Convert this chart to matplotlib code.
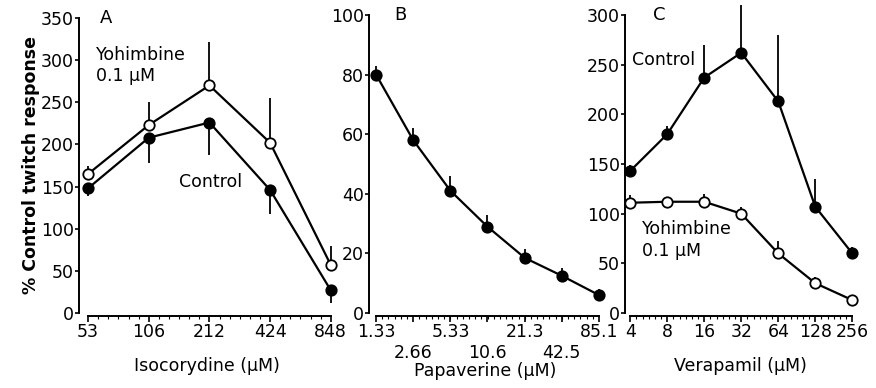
import numpy as np
import matplotlib
matplotlib.use('Agg')
import matplotlib.pyplot as plt
from matplotlib.ticker import FixedLocator, NullFormatter

# --- data
# A: isocorydine
iso_conc = [53, 106, 212, 424, 848]
iso_yoh = [165, 223, 270, 202, 57]
iso_yoh_err = [10, 27, 52, 53, 22]
iso_ctrl = [148, 208, 226, 146, 27]
iso_ctrl_err = [9, 30, 38, 28, 15]

# B: papaverine
pap_conc = [1.33, 2.66, 5.33, 10.6, 21.3, 42.5, 85.1]
pap_labels = ['1.33', '2.66', '5.33', '10.6', '21.3', '42.5', '85.1']
pap_ctrl = [80, 58, 41, 29, 18.5, 12.5, 6]
pap_ctrl_err = [3, 4, 5, 4, 3, 2.5, 2]

# C: verapamil
ver_conc = [4, 8, 16, 32, 64, 128, 256]
ver_labels = ['4', '8', '16', '32', '64', '128', '256']
ver_ctrl = [143, 180, 237, 262, 213, 107, 60]
ver_ctrl_err = [6, 8, 33, 48, 67, 28, 6]
ver_yoh = [111, 112, 112, 100, 60, 30, 13]
ver_yoh_err = [8, 5, 8, 7, 12, 6, 5]

plt.rcParams['font.family'] = 'DejaVu Sans'
plt.rcParams['font.size'] = 12.5

fig = plt.figure(figsize=(8.76, 3.88), dpi=100)
W, H = 876, 388

def make_ax(x0, x1, ytop, ybot=313):
	return fig.add_axes([x0/W, 1 - ybot/H, (x1 - x0)/W, (ybot - ytop)/H])

def style(ax, xs, labels):
	ax.set_xscale('log', base=2)
	for s in ['top', 'right']:
		ax.spines[s].set_visible(False)
	ax.spines['left'].set_linewidth(1.4)
	ax.spines['bottom'].set_linewidth(1.4)
	ax.spines['bottom'].set_bounds(xs[0], xs[-1])
	ax.spines['bottom'].set_position(('outward', 2))
	ax.xaxis.set_major_locator(FixedLocator(xs))
	ax.set_xticklabels(labels)
	ax.xaxis.set_minor_locator(FixedLocator(np.exp(np.linspace(np.log(xs[0]), np.log(xs[-1]), (len(xs)-1)*6 + 1))))
	ax.xaxis.set_minor_formatter(NullFormatter())
	ax.tick_params(axis='x', which='major', length=4, width=1.2, direction='out', pad=1.5)
	ax.tick_params(axis='x', which='minor', length=2, width=0.8, direction='out')
	ax.tick_params(axis='y', length=3, width=1.2, direction='out', pad=0.5)

def series(ax, x, y, err, filled, down):
	yerr = [err, [0]*len(err)] if down else [[0]*len(err), err]
	ax.errorbar(x, y, yerr=yerr, fmt='-', color='k', lw=1.6, elinewidth=1.3, capsize=0,
		marker='o', markersize=7.5, markerfacecolor='k' if filled else 'white',
		markeredgecolor='k', markeredgewidth=1.3, clip_on=False, zorder=3)

# --- panel A
axA = make_ax(79, 335, 18)
series(axA, iso_conc, iso_yoh, iso_yoh_err, False, False)
series(axA, iso_conc, iso_ctrl, iso_ctrl_err, True, True)
axA.set_ylim(0, 350)
axA.set_yticks(np.arange(0, 351, 50))
axA.set_xlim(53*2**-0.15, 848*2**0.07)
style(axA, iso_conc, [str(v) for v in iso_conc])
axA.set_xlabel('Isocorydine (\u03bcM)', labelpad=11)
axA.set_ylabel('% Control twitch response', fontweight='bold', labelpad=1)
axA.text(0.08, 1.0, 'A', transform=axA.transAxes, fontsize=13, va='center')
axA.text(58, 317, 'Yohimbine\n0.1 \u03bcM', va='top', ha='left', linespacing=1.25)
axA.text(150, 155, 'Control', va='center', ha='left')

# --- panel B
axB = make_ax(369, 602, 15)
series(axB, pap_conc, pap_ctrl, pap_ctrl_err, True, False)
axB.set_ylim(0, 100)
axB.set_yticks(np.arange(0, 101, 20))
axB.set_xlim(1.33*2**-0.19, 85.1*2**0.08)
style(axB, pap_conc, [l if i % 2 == 0 else '\n' + l for i, l in enumerate(pap_labels)])
axB.set_xlabel('Papaverine (\u03bcM)', labelpad=0)
axB.text(0.11, 1.0, 'B', transform=axB.transAxes, fontsize=13, va='center')

# --- panel C
axC = make_ax(625, 856, 15)
series(axC, ver_conc, ver_ctrl, ver_ctrl_err, True, False)
series(axC, ver_conc, ver_yoh, ver_yoh_err, False, False)
axC.set_ylim(0, 300)
axC.set_yticks(np.arange(0, 301, 50))
axC.set_xlim(4*2**-0.14, 256*2**0.1)
style(axC, ver_conc, ver_labels)
axC.set_xlabel('Verapamil (\u03bcM)', labelpad=11)
axC.text(0.12, 1.0, 'C', transform=axC.transAxes, fontsize=13, va='center')
axC.text(4.1, 255, 'Control', va='center', ha='left')
axC.text(5.0, 94, 'Yohimbine\n0.1 \u03bcM', va='top', ha='left', linespacing=1.3)

fig.savefig('out.png', dpi=100, facecolor='white')
